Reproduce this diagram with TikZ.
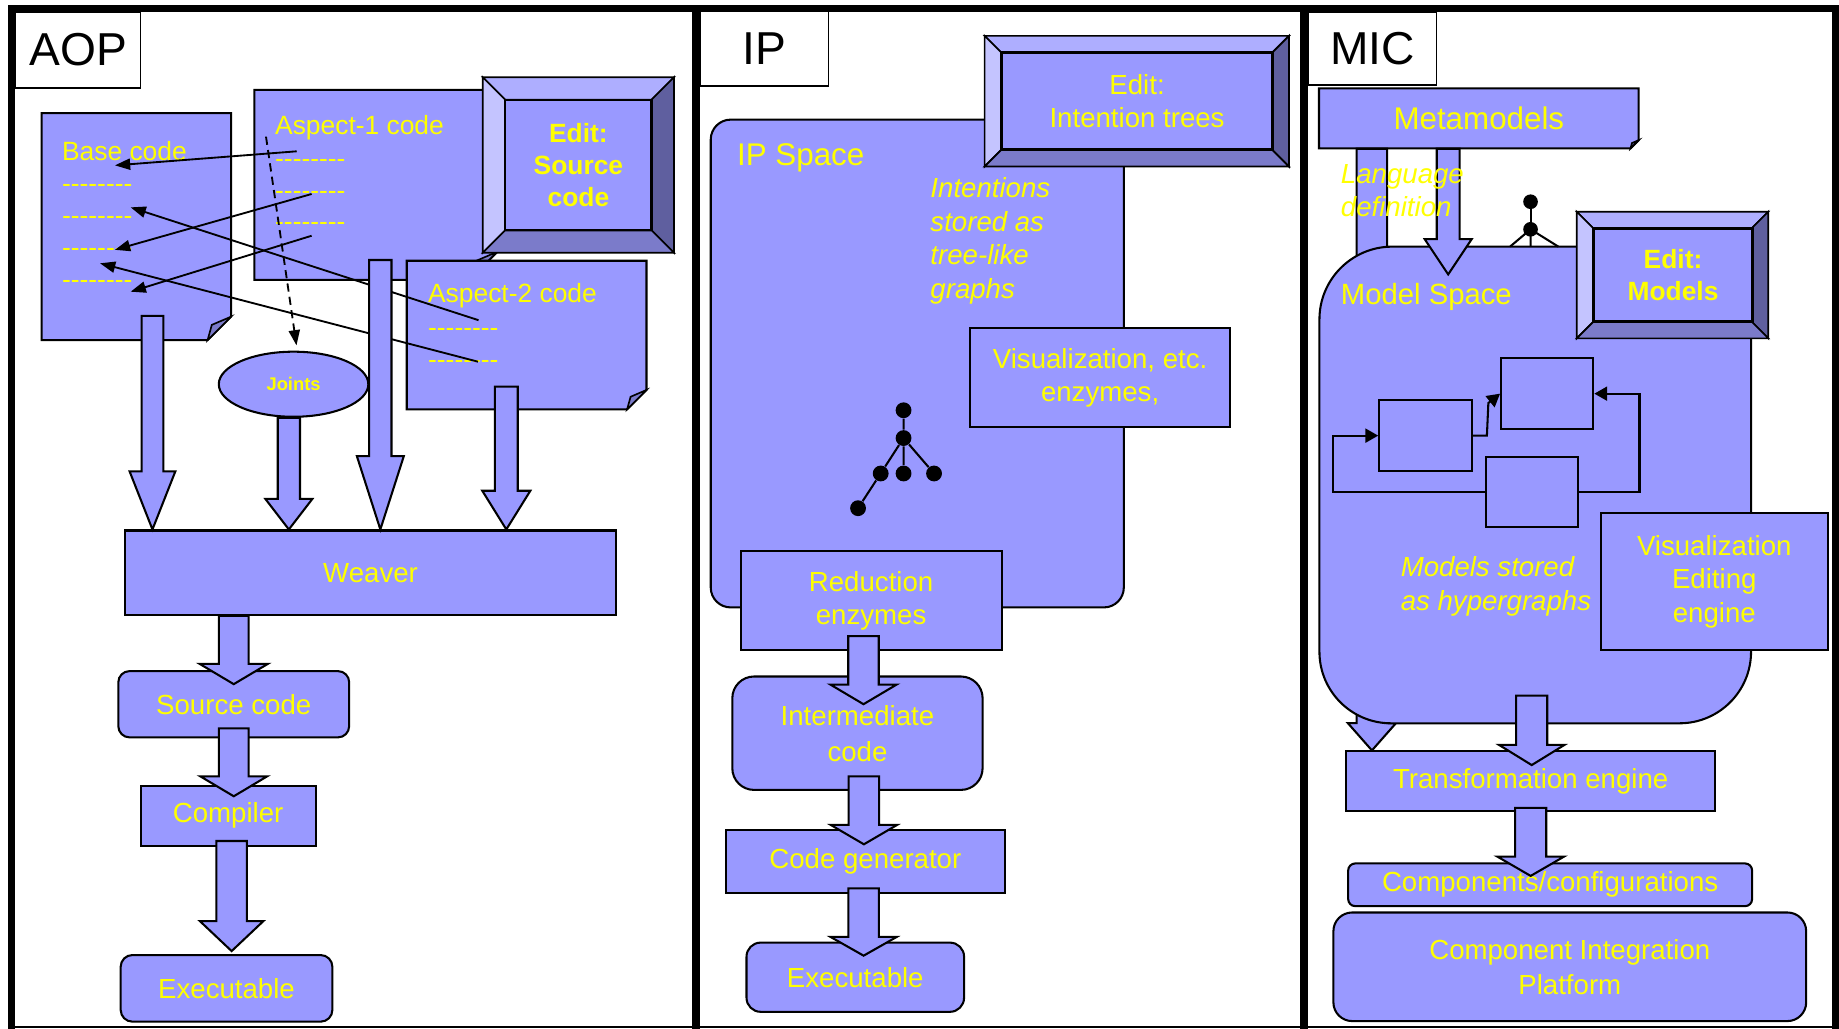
\documentclass[tikz,border=0pt]{standalone}
\usepackage{fontspec}
\setmainfont{Liberation Sans}
\usepackage{tikz}
\usetikzlibrary{arrows.meta,calc,shapes.geometric}

\definecolor{boxblue}{HTML}{9999FF}
\definecolor{boxtext}{HTML}{FFFF00}
\definecolor{bevtop}{HTML}{AEAEFF}
\definecolor{bevleft}{HTML}{C4C4FF}
\definecolor{bevright}{HTML}{5F5F9F}
\definecolor{bevbottom}{HTML}{7B7BCA}

\newcommand{\normsize}{\fontsize{13.4}{16.2}\selectfont}
\newcommand{\docsize}{\fontsize{12.8}{15.4}\selectfont}
\newcommand{\titlesize}{\fontsize{22.4}{26}\selectfont}
\newcommand{\spacesize}{\fontsize{15.2}{18}\selectfont}
\newcommand{\dashes}{-{}-{}-{}-{}-{}-{}-{}-}

\begin{document}
\begin{tikzpicture}[x=0.2mm,y=-0.2mm,
    rect/.style n args={4}{at={({(#1+#3)/2},{(#2+#4)/2})},
        minimum width={(#3-#1)*0.2mm}, minimum height={(#4-#2)*0.2mm}},
    box/.style={draw,fill=boxblue,line width=1pt,inner sep=0pt,text=boxtext,font=\normsize,align=center},
    rbox/.style={box,rounded corners=#1},
    tag/.style={draw,fill=white,line width=0.8pt,inner sep=0pt,font=\titlesize},
    txt/.style={text=boxtext,font=\normsize,inner sep=0pt,align=left},
    doctxt/.style={txt,font=\docsize,anchor=base west},
    dot/.style={circle,fill=black,inner sep=0pt,minimum size=2.7mm},
    link/.style={line width=0.9pt,-{Triangle[length=2.6mm,width=1.9mm]}},
    fat/.style n args={3}{draw,fill=boxblue,line width=1pt,to path={
        let \p1=(\tikztostart), \p2=(\tikztotarget) in
        (\x1-#1,\y1) -- (\x1+#1,\y1) -- (\x1+#1,\y2+#3) -- (\x1+#2,\y2+#3)
        -- (\x1,\y2) -- (\x1-#2,\y2+#3) -- (\x1-#1,\y2+#3) -- cycle}},
  ]
    % Page with a folded corner
    \def\docshape#1#2#3#4#5{%
      \filldraw[fill=boxblue,line width=1pt] (#1,#2) -- (#3,#2) -- (#3,{#4-#5})
        -- ({#3-#5},#4) -- (#1,#4) -- cycle;
      \filldraw[fill=bevbottom,line width=0.8pt] ({#3-#5},#4) -- (#3,{#4-#5})
        -- ({#3-0.82*#5},{#4-0.65*#5}) -- cycle;}
    % Raised frame of an edit button
    \def\bevelframe#1#2#3#4#5{%
      \filldraw[fill=bevtop,line width=0.8pt] (#1,#2) -- (#3,#2) -- ({#3-#5},{#2+#5}) -- ({#1+#5},{#2+#5}) -- cycle;
      \filldraw[fill=bevleft,line width=0.8pt] (#1,#2) -- ({#1+#5},{#2+#5}) -- ({#1+#5},{#4-#5}) -- (#1,#4) -- cycle;
      \filldraw[fill=bevright,line width=0.8pt] (#3,#2) -- (#3,#4) -- ({#3-#5},{#4-#5}) -- ({#3-#5},{#2+#5}) -- cycle;
      \filldraw[fill=bevbottom,line width=0.8pt] (#1,#4) -- ({#1+#5},{#4-#5}) -- ({#3-#5},{#4-#5}) -- (#3,#4) -- cycle;}

    \useasboundingbox (0,0) rectangle (1568,877);

    % ---------------- AOP ----------------
    \node[tag, rect={13.3}{10}{119.9}{75.3}] (aop) {AOP};

    \docshape{35.5}{96.5}{197}{290}{20}
    \node[doctxt] (basetxt) at (52.6,137) {Base code};
    \foreach \y [count=\i] in {164.5,191.6,219.1,246.4}
        \node[doctxt] (base\i) at (52.6,\y) {\dashes};

    \docshape{216.9}{76.7}{424}{238.7}{24}
    \node[doctxt] (asp1txt) at (234.3,114.5) {Aspect-1 code};
    \foreach \y [count=\i] in {142.7,169.7,196.7}
        \node[doctxt] (asp1\i) at (234.3,\y) {\dashes};

    \bevelframe{411.6}{65.9}{574.7}{215.5}{19}
    \node[box, line width=1.4pt, font=\bfseries\docsize, rect={430.6}{85.3}{555.7}{196.1}] (editsrc) {Edit:\\Source\\code};

    \docshape{346.8}{222.3}{551.2}{349}{16.5}
    \node[doctxt] (asp2txt) at (364.7,258) {Aspect-2 code};
    \foreach \y [count=\i] in {286.5,313.8}
        \node[doctxt] (asp2\i) at (364.7,\y) {\dashes};

    \node[box, ellipse, minimum width=25.5mm, minimum height=11.1mm,
          font=\bfseries\fontsize{8.9}{10}\selectfont] (joints) at (250.3,327.6) {Joints};

    % weaving links
    \coordinate (from1) at (253,129);     \coordinate (to1) at (98,141);
    \coordinate (from2) at (408,273);     \coordinate (to2) at (111.4,176.8);
    \coordinate (from3) at (265.7,165.4); \coordinate (to3) at (98,213);
    \coordinate (from4) at (265.7,201);   \coordinate (to4) at (111.4,248.7);
    \coordinate (from5) at (407.6,308.4); \coordinate (to5) at (85.3,224.5);
    \foreach \i in {1,...,5}
        \draw[link] (from\i) -- (to\i);
    \coordinate (jointsrc) at (226.8,116.5);
    \draw[link, dash pattern=on 1.4mm off 0.9mm] (jointsrc) -- ([xshift=0.5mm,yshift=0.9mm]joints.north);

    \node[box, rect={106.6}{452.3}{525.3}{524.3}] (weaver) {Weaver};
    \node[rbox=1.9mm, rect={100.9}{572.2}{297.7}{628.7}] (srccode) {Source code};
    \node[box, rect={119.9}{669.8}{269.1}{721.2}] (compiler) {Compiler};
    \node[rbox=2mm, rect={102.9}{814.3}{283.4}{871.1}] (aopexe) {Executable};

    \coordinate (baseout) at (130,269.4);
    \coordinate (asp1out) at (324.3,221.7);
    \coordinate (asp2out) at (431.7,329.7);
    \draw[fat={1.85mm}{3.9mm}{9.9mm}] (baseout) to (weaver.north);
    \draw[fat={1.9mm}{4mm}{5.2mm}] ([xshift=-0.8mm]joints.south) to (weaver.north);
    \draw[fat={1.9mm}{4mm}{12.5mm}] (asp1out) to (weaver.north);
    \draw[fat={1.95mm}{4.1mm}{6.6mm}] (asp2out) to (weaver.north);

    \draw[fat={2.55mm}{5.8mm}{3.45mm}] (srccode.north |- weaver.south) to ([yshift=-2.4mm]srccode.north);
    \draw[fat={2.55mm}{5.7mm}{3.4mm}] ([yshift=1.7mm]srccode.south) to ([yshift=-2mm]compiler.north);
    \draw[fat={2.6mm}{5.4mm}{5.1mm}] ([xshift=0.6mm,yshift=1mm]compiler.south) to ([yshift=0.5mm]aopexe.north);

    % ---------------- IP ----------------
    \node[tag, rect={596.8}{9.7}{706.3}{73.1}] (ip) {IP};
    \node[box, rounded corners=3.4mm, rect={606}{102}{958.2}{517.9}] (ipspace) {};
    \bevelframe{839.5}{30.6}{1099}{142}{14.5}
    \node[box, line width=1.4pt, rect={854}{44.5}{1085}{127.7}] (editint) {Edit:\\Intention trees};
    \node[txt, font=\spacesize, anchor=base west] (ipname) at (628.2,141) {IP Space};
    \node[txt, font=\itshape\normsize, anchor=base west] (intent) at (793,254.1) {Intentions\\stored as\\tree-like\\graphs};
    \node[box, rect={827}{280}{1049}{364}] (ipvis) {Visualization, etc.\\enzymes,};

    % intention tree
    \node[dot] (t0) at (770.4,349.8) {};
    \node[dot] (t1) at (770.4,373.5) {};
    \node[dot] (t2) at (750.9,403.7) {};
    \node[dot] (t3) at (770.4,403.7) {};
    \node[dot] (t4) at (796.4,403.7) {};
    \node[dot] (t5) at (731.6,433.3) {};
    \draw[line width=1pt] (t0) -- (t1) (t1) -- (t2) (t1) -- (t3) (t1) -- (t4) (t2) -- (t5);

    \node[box, rect={631.5}{469.8}{854}{554.5}] (reduce) {Reduction\\enzymes};
    \node[rbox=3.7mm, font=\fontsize{13.4}{17.5}\selectfont, rect={624.4}{576.8}{837.8}{673.5}] (inter) {Intermediate\\code};
    \node[box, rect={618.7}{708}{857}{761.4}] (codegen) {Code generator};
    \node[rbox=2.4mm, rect={636.5}{803.7}{822}{862.7}] (ipexe) {Executable};

    \draw[fat={2.6mm}{5.65mm}{3.35mm}] ([xshift=-1.3mm,yshift=2.6mm]reduce.south) to ([yshift=-4.9mm]inter.north);
    \draw[fat={2.6mm}{5.65mm}{3.3mm}] ([xshift=1.1mm,yshift=2.5mm]inter.south) to ([yshift=-2.55mm]codegen.north);
    \draw[fat={2.6mm}{5.65mm}{3.2mm}] ([xshift=-0.3mm,yshift=0.95mm]codegen.south) to ([yshift=-2.4mm]ipexe.north);

    % ---------------- MIC ----------------
    \node[tag, rect={1115.8}{10}{1224.8}{72.5}] (mic) {MIC};
    \docshape{1124.6}{75.3}{1397.2}{126.5}{7}
    \node[txt, font=\spacesize, rect={1124.6}{75.3}{1397.2}{126.5}] (meta) {Metamodels};

    \node[box, rect={1148}{640.7}{1462.2}{691.4}] (trans) {Transformation engine};
    \node[rbox=1.2mm, rect={1149.5}{736.2}{1493.9}{772.6}] (comp) {Components/configurations};
    \node[rbox=3.2mm, font=\fontsize{13.4}{17}\selectfont, rect={1136.9}{778}{1540}{870.6}] (cip) {Component Integration\\Platform};

    \node[inner sep=0pt, rect={1125}{210.3}{1493}{616.7}] (mspace) {};
    \draw[fat={2.6mm}{4.1mm}{4.65mm}] ([xshift=9.1mm]meta.south west) to (trans.north);
    \filldraw[fill=boxblue, line width=1pt] (1125,555.7) -- (1125,272.3)
        arc[start angle=180, end angle=270, radius=62] -- (1493,210.3) -- (1493,555.7)
        arc[start angle=0, end angle=90, radius=61] -- (1186,616.7)
        arc[start angle=90, end angle=180, radius=61] -- cycle;
    \draw[fat={1.95mm}{4mm}{6mm}] ([xshift=22.1mm]meta.south west) to ([yshift=-4.8mm]mspace.north);

    \draw[line width=1pt] (1305,195.5) -- ++(-17.5,14.8) (1305,195.5) -- ++(0,14.8) (1305,195.5) -- ++(23.7,14.8);
    \node[dot, minimum size=2.5mm] (m0) at (1305,172) {};
    \node[dot, minimum size=2.5mm] (m1) at (1305,195.5) {};
    \draw[line width=1pt] (m0) -- (m1);

    \node[txt, font=\itshape\normsize, anchor=base west] (langdef) at (1143,184.8) {Language\\definition};
    \bevelframe{1344.4}{180.5}{1507.7}{288.5}{14.5}
    \node[box, line width=1.4pt, font=\bfseries\docsize, rect={1359}{194.7}{1493.9}{274.3}] (editmod) {Edit:\\Models};
    \node[txt, font=\fontsize{14.2}{17}\selectfont, anchor=base west] (msname) at (1143,259.2) {Model Space};

    % hypergraph sketch
    \node[box, rect={1176}{341.3}{1254.9}{401.6}] (ga) {};
    \node[box, rect={1279.9}{305.5}{1358.5}{365.8}] (gb) {};
    \node[box, rect={1267}{389.4}{1345.8}{449.6}] (gc) {};
    \draw[link, line width=1pt, -{Triangle[length=2.2mm,width=2.4mm]}] (ga.east) -- ++(2.4mm,0) -- ([xshift=-2mm,yshift=-1.6mm]gb.west) -- (gb.west);
    \draw[link, line width=1pt, -{Triangle[length=2.2mm,width=2.4mm]}] (gc.west) -| ([xshift=-7.7mm]ga.west) -- (ga.west);
    \draw[link, line width=1pt, -{Triangle[length=2.2mm,width=2.4mm]}] (gc.east) -| ([xshift=7.7mm]gb.east) -- (gb.east);

    \node[box, rect={1364.9}{437.7}{1558.4}{554}] (mvis) {Visualization\\Editing\\engine};
    \node[txt, font=\itshape\fontsize{13.4}{16.5}\selectfont, anchor=base west] (hyper) at (1194,520.4) {Models stored\\as hypergraphs};

    \draw[fat={2.65mm}{5.6mm}{3.45mm}] ([xshift=-0.6mm,yshift=4.8mm]mspace.south) to ([yshift=-2.5mm]trans.north);
    \draw[fat={2.65mm}{5.7mm}{3.3mm}] ([yshift=0.7mm]trans.south) to ([yshift=-2.3mm]comp.north);

    % outer frame and panel dividers
    \draw[line width=1.2mm] (9.5,877) -- (9.5,7) -- (1565,7) -- (1565,877);
    \draw[line width=1.3mm] (593.5,7) -- (593.5,877);
    \draw[line width=1.3mm] (1112,7) -- (1112,877);
    \draw[line width=0.35mm] (9.5,875.5) -- (1565,875.5);
\end{tikzpicture}
\end{document}
